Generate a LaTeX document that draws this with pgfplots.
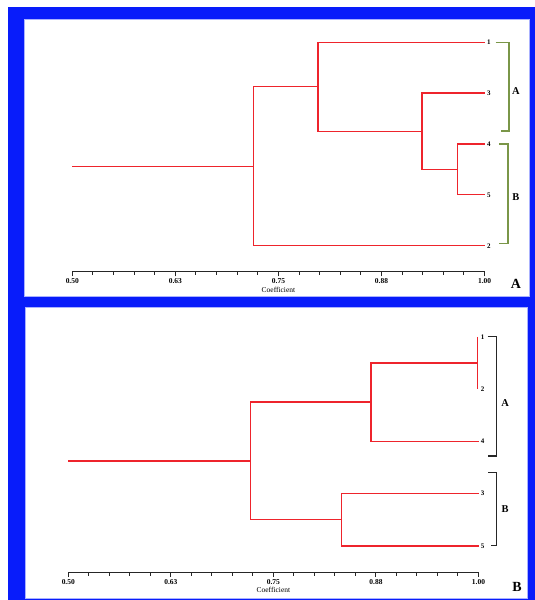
\documentclass[border=0pt]{standalone}
\usepackage{pgfplots}
\pgfplotsset{compat=1.18}
\usepackage{fontspec}
\setmainfont{Liberation Serif}
\definecolor{bgblue}{RGB}{8,28,250}
\definecolor{dred}{RGB}{238,36,44}
\definecolor{olivebr}{RGB}{122,150,72}
\definecolor{edgec}{RGB}{170,178,255}
\tikzset{
  leaf/.style={anchor=west, inner sep=0pt, xshift=2.2bp, font=\fontsize{7}{8}\selectfont\bfseries},
  grp/.style={font=\fontsize{10.5}{11}\selectfont\bfseries},
  br/.style={dred, line width=1.3bp},
}
\pgfplotsset{dendro/.style={
  scale only axis, clip=false,
  xmin=0.5, xmax=1, ymax=5.2,
  axis x line=bottom, axis y line=none,
  x axis line style={-, line width=1bp, black!85},
  xtick={0.5,0.625,0.75,0.875,1},
  xticklabels={0.50,0.63,0.75,0.88,1.00},
  minor x tick num=4,
  tick align=outside,
  major tick length=4.5bp, minor tick length=3bp,
  tick style={line width=1bp, black!85},
  /pgf/number format/assume math mode=true,
  xticklabel style={font=\fontsize{7.5}{8}\selectfont\bfseries, inner sep=0.8bp, yshift=-1.2bp},
  xlabel={Coefficient},
  xlabel style={font=\fontsize{7.5}{8}\selectfont, inner sep=0.5bp, yshift=-1.5bp},
}}
\begin{document}
\begin{tikzpicture}
\fill[white] (0bp,0bp) rectangle (535bp,600bp);
\fill[bgblue] (8bp,0bp) rectangle (535bp,593bp);
\filldraw[fill=white, draw=edgec, line width=0.6bp] (24bp,304bp) rectangle (529bp,581bp);
\filldraw[fill=white, draw=edgec, line width=0.6bp] (25bp,2bp) rectangle (527bp,293bp);
% Panel A
\begin{scope}[shift={(72.3bp,328bp)}]
\begin{axis}[dendro, at={(0pt,0pt)}, anchor=south west,
  width=412.3bp, height=239.9bp, ymin=0.483]
\addplot[br] coordinates {(1,3) (0.967,3) (0.967,2) (1,2)};
\addplot[br] coordinates {(1,4) (0.924,4) (0.924,2.5) (0.967,2.5)};
\addplot[br] coordinates {(1,5) (0.798,5) (0.798,3.25) (0.924,3.25)};
\addplot[br] coordinates {(0.798,4.125) (0.72,4.125) (0.72,1) (1,1)};
\addplot[br] coordinates {(0.5,2.5625) (0.72,2.5625)};
\node[leaf] at (axis cs:1,5) {1};
\node[leaf] at (axis cs:1,4) {3};
\node[leaf] at (axis cs:1,3) {4};
\node[leaf] at (axis cs:1,2) {5};
\node[leaf] at (axis cs:1,1) {2};
\draw[olivebr, line width=1.3bp] (axis cs:1.0135,5) -- (axis cs:1.0296,5) -- (axis cs:1.0296,3.256) -- (axis cs:1.0195,3.256);
\draw[olivebr, line width=1.3bp] (axis cs:1.0175,3) -- (axis cs:1.0284,3) -- (axis cs:1.0284,1.043) -- (axis cs:1.0175,1.043);
\node[grp] at (axis cs:1.038,4.04) {A};
\node[grp] at (axis cs:1.038,1.96) {B};
\end{axis}
\end{scope}
% Panel B
\begin{scope}[shift={(68.3bp,27.3bp)}]
\begin{axis}[dendro, at={(0pt,0pt)}, anchor=south west,
  width=410.2bp, height=246.4bp, ymin=0.488]
\addplot[br] coordinates {(0.999,5) (0.999,4)};
\addplot[br] coordinates {(0.999,4.5) (0.869,4.5) (0.869,3) (1,3)};
\addplot[br] coordinates {(1,2) (0.833,2) (0.833,1) (1,1)};
\addplot[br] coordinates {(0.869,3.75) (0.7225,3.75) (0.7225,1.5) (0.833,1.5)};
\addplot[br] coordinates {(0.5,2.625) (0.7225,2.625)};
\node[leaf] at (axis cs:1,5) {1};
\node[leaf] at (axis cs:1,4) {2};
\node[leaf] at (axis cs:1,3) {4};
\node[leaf] at (axis cs:1,2) {3};
\node[leaf] at (axis cs:1,1) {5};
\draw[black!85, line width=1.3bp] (axis cs:1.011,5) -- (axis cs:1.0221,5) -- (axis cs:1.0221,2.719) -- (axis cs:1.011,2.719);
\draw[black!85, line width=1.3bp] (axis cs:1.0116,2.4) -- (axis cs:1.0221,2.4) -- (axis cs:1.0221,1.004) -- (axis cs:1.0152,1.004);
\node[grp] at (axis cs:1.0324,3.727) {A};
\node[grp] at (axis cs:1.0324,1.706) {B};
\end{axis}
\end{scope}
\node[font=\fontsize{14}{15}\selectfont\bfseries] at (516bp,316bp) {A};
\node[font=\fontsize{14}{15}\selectfont\bfseries] at (517bp,13bp) {B};
\end{tikzpicture}
\end{document}
